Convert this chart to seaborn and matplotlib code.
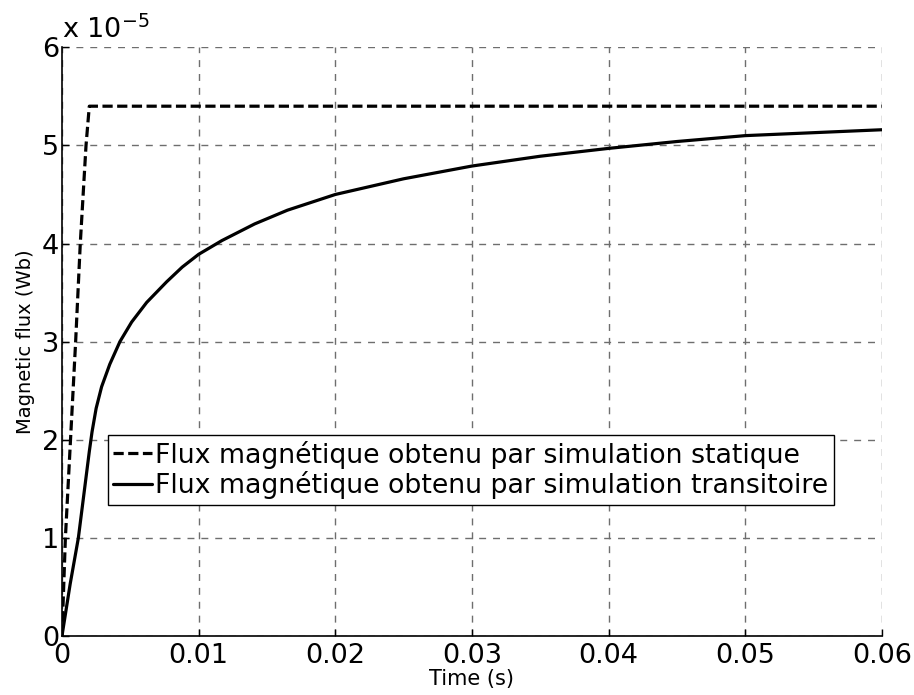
import numpy as np
import pandas as pd
import matplotlib
matplotlib.use("Agg")
import matplotlib.pyplot as plt
import seaborn as sns

# values (flux in units of 1e-5 Wb)
t_static = [0, 0.00025, 0.001, 0.00134, 0.00176, 0.002, 0.06]
phi_static = [0, 1.0, 3.0, 4.0, 5.0, 5.4, 5.4]

t_trans = [0, 0.0006, 0.0012, 0.0017, 0.002, 0.0022, 0.0025, 0.0029, 0.0035,
           0.00424, 0.0051, 0.0062, 0.00766, 0.0088, 0.01, 0.0117, 0.0141,
           0.0165, 0.02, 0.025, 0.03, 0.035, 0.04, 0.045, 0.05, 0.055, 0.06]
phi_trans = [0, 0.53, 1.0, 1.55, 1.88, 2.08, 2.32, 2.54, 2.77, 3.0, 3.2, 3.40,
             3.61, 3.76, 3.89, 4.03, 4.2, 4.34, 4.5, 4.66, 4.79, 4.89, 4.97,
             5.04, 5.1, 5.13, 5.16]

label_static = "Flux magnétique obtenu par simulation statique"
label_trans = "Flux magnétique obtenu par simulation transitoire"

x_ticks = [0, 0.01, 0.02, 0.03, 0.04, 0.05, 0.06]
x_tick_labels = ["0", "0.01", "0.02", "0.03", "0.04", "0.05", "0.06"]
y_ticks = [0, 1, 2, 3, 4, 5, 6]

df_static = pd.DataFrame({"t": t_static, "phi": phi_static})
df_trans = pd.DataFrame({"t": t_trans, "phi": phi_trans})

sns.set_style("ticks")
plt.rcParams["font.family"] = ["DejaVu Sans"]
plt.rcParams["text.color"] = "black"
plt.rcParams["axes.labelcolor"] = "black"
plt.rcParams["xtick.color"] = "black"
plt.rcParams["ytick.color"] = "black"

fig = plt.figure(figsize=(9.14, 6.95), dpi=100)
ax = fig.add_axes([0.0678, 0.0849, 0.897, 0.847])

sns.lineplot(data=df_static, x="t", y="phi", sort=False, color="black",
             linewidth=2.3, linestyle=(0, (3.2, 1.4)), label=label_static, ax=ax)
sns.lineplot(data=df_trans, x="t", y="phi", sort=False, color="black",
             linewidth=2.3, label=label_trans, ax=ax)

ax.set_xlim(0, 0.06)
ax.set_ylim(0, 6)
ax.set_xticks(x_ticks)
ax.set_xticklabels(x_tick_labels)
ax.set_yticks(y_ticks)
ax.tick_params(direction="in", length=5, width=1, labelsize=19.5)
ax.tick_params(axis="x", pad=5)
ax.tick_params(axis="y", pad=2)
ax.grid(True, color="#6e6e6e", linestyle=(0, (5, 5)), linewidth=1)

for side in ["top", "right"]:
    ax.spines[side].set_visible(False)
for side in ["left", "bottom"]:
    ax.spines[side].set_color("black")
    ax.spines[side].set_linewidth(1.2)

ax.set_xlabel("Time (s)", fontsize=15, labelpad=0)
ax.set_ylabel("Magnetic flux (Wb)", fontsize=14, labelpad=5)

ax.text(0.0, 1.006, r"x 10$^{\mathregular{-5}}$", transform=ax.transAxes,
        fontsize=19.5, ha="left", va="bottom")

leg = ax.legend(loc="upper left", bbox_to_anchor=(0.056, 0.341), fontsize=19.3,
                frameon=True, fancybox=False, framealpha=1, edgecolor="black",
                handlelength=1.45, handletextpad=0.12, borderpad=0.2,
                borderaxespad=0, labelspacing=0.1)
leg.get_frame().set_linewidth(1)

plt.savefig("out.png", dpi=100)
